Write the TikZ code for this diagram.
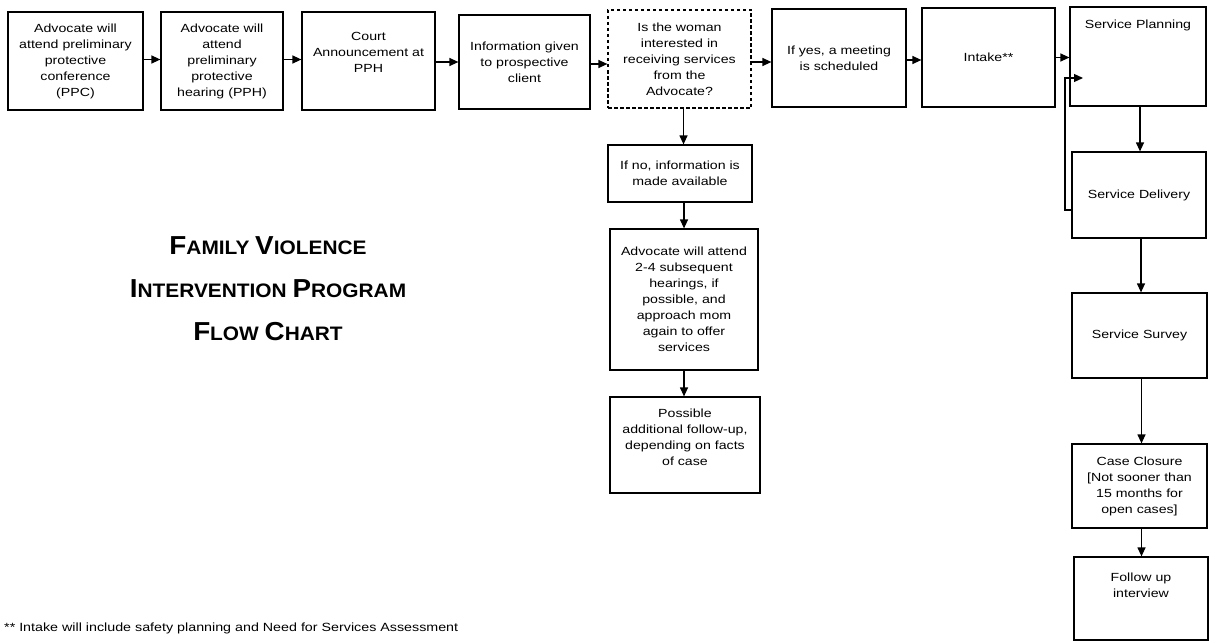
\documentclass[tikz,border=0pt]{standalone}
\usepackage{fontspec}
\setmainfont{Liberation Sans}
\newfontfamily\bodyfont[FakeStretch=1.2]{Liberation Sans}
\newfontfamily\titlefont[FakeStretch=1.07]{Liberation Sans}
\usetikzlibrary{arrows.meta}
\newcommand\tcap[2]{{\fontsize{26}{43}\selectfont #1}{\fontsize{19.5}{43}\selectfont #2}}
\begin{document}
\begin{tikzpicture}[x=1pt,y=-1pt,
  box/.style={draw, line width=1.2pt, align=center, inner sep=2pt,
    font=\bodyfont\fontsize{11.8}{16}\selectfont},
  dbox/.style={box, dash pattern=on 3.5pt off 2.5pt},
  arr/.style={line width=1.2pt, -{Triangle[length=9pt,width=8pt]}},
]
\useasboundingbox (0,0) rectangle (1217,642);
% top row
\node[box, minimum width=135, minimum height=98] (n1) at (75.5,61)
  {Advocate will\\attend preliminary\\protective\\conference\\(PPC)};
\node[box, minimum width=122, minimum height=98] (n2) at (222,61)
  {Advocate will\\attend\\preliminary\\protective\\hearing (PPH)};
\node[box, minimum width=133, minimum height=98] (n3) at (368.5,61)
  {Court\\Announcement at\\PPH\\[2pt]\mbox{}};
\node[box, minimum width=131, minimum height=94] (n4) at (524.5,62)
  {Information given\\to prospective\\client};
\node[dbox, minimum width=143, minimum height=98] (n5) at (679.5,59)
  {Is the woman\\interested in\\receiving services\\from the\\Advocate?};
\node[box, minimum width=134, minimum height=98] (n6) at (839,58)
  {If yes, a meeting\\is scheduled};
\node[box, minimum width=133, minimum height=99] (n7) at (988.5,57.5)
  {Intake**};
% right column
\node[box, minimum width=136, minimum height=99] (sp) at (1138,56.5)
  {Service Planning\\[49pt]\mbox{}};
\node[box, minimum width=134, minimum height=86] (sd) at (1139,195)
  {Service Delivery};
\node[box, minimum width=135, minimum height=85] (ss) at (1139.5,335.5)
  {Service Survey};
\node[box, minimum width=135, minimum height=84] (cc) at (1139.5,486)
  {Case Closure\\{[}Not sooner than\\15 months for\\open cases{]}};
\node[box, minimum width=134, minimum height=83] (fu) at (1141,598.5)
  {Follow up\\interview\\[11pt]\mbox{}};
% middle column
\node[box, minimum width=144, minimum height=57] (m1) at (680,173.5)
  {If no, information is\\made available};
\node[box, minimum width=148, minimum height=141] (m2) at (684,299.5)
  {Advocate will attend\\2-4 subsequent\\hearings, if\\possible, and\\approach mom\\again to offer\\services};
\node[box, minimum width=150, minimum height=96] (m3) at (685,445)
  {Possible\\additional follow-up,\\depending on facts\\of case\\\mbox{}};
% title
\node[align=center, inner sep=0pt, font=\titlefont\bfseries\fontsize{19.5}{43}\selectfont] (title) at (268,289)
  {\tcap{F}{AMILY} \tcap{V}{IOLENCE}\\\tcap{I}{NTERVENTION} \tcap{P}{ROGRAM}\\\tcap{F}{LOW} \tcap{C}{HART}};
% footnote
\node[anchor=west, inner sep=0pt, font=\bodyfont\fontsize{11.9}{13}\selectfont] (fn) at (4,628)
  {** Intake will include safety planning and Need for Services Assessment};
% connectors top row
\draw[arr] ([yshift=1.5pt]n1.east) -- ([yshift=1.5pt]n1.east -| n2.west);
\draw[arr] ([yshift=1.5pt]n2.east) -- ([yshift=1.5pt]n2.east -| n3.west);
\draw[arr] ([yshift=-1pt]n3.east) -- ([yshift=-1pt]n3.east -| n4.west);
\draw[arr] ([yshift=-2pt]n4.east) -- ([yshift=-2pt]n4.east -| n5.west);
\draw[arr] ([yshift=-3pt]n5.east) -- ([yshift=-3pt]n5.east -| n6.west);
\draw[arr] ([yshift=-2pt]n6.east) -- ([yshift=-2pt]n6.east -| n7.west);
\draw[arr] (n7.east) -- (n7.east -| sp.west);
% right column
\draw[arr] ([xshift=2pt]sp.south) -- ([xshift=2pt]sp.south |- sd.north);
\draw[arr] ([xshift=2pt]sd.south) -- ([xshift=2pt]sd.south |- ss.north);
\draw[arr] ([xshift=2pt]ss.south) -- ([xshift=2pt]ss.south |- cc.north);
\draw[arr] ([xshift=2pt]cc.south) -- ([xshift=2pt]cc.south |- fu.north);
\coordinate (fbtip) at (1083,78);
\coordinate (fbl) at (1065,210);
\draw[arr] (sd.west |- fbl) -- (fbl) |- (fbtip);
% middle column
\draw[arr] ([xshift=4pt]n5.south) -- ([xshift=4pt]n5.south |- m1.north);
\draw[arr] ([xshift=4pt]m1.south) -- ([xshift=4pt]m1.south |- m2.north);
\draw[arr] (m2.south) -- (m2.south |- m3.north);
\end{tikzpicture}
\end{document}
